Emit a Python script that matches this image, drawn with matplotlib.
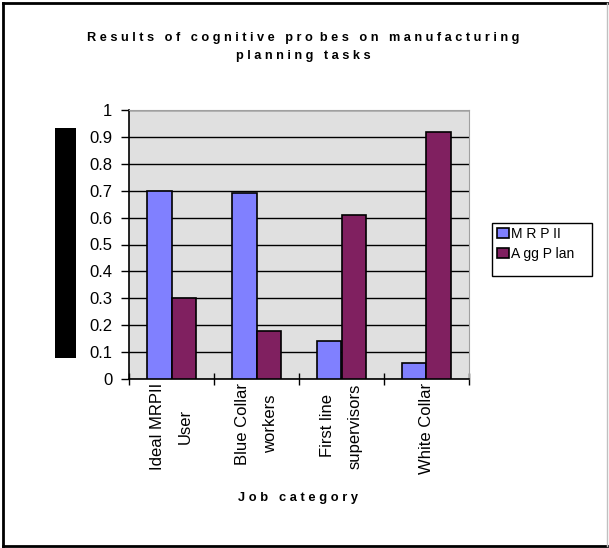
import numpy as np
import matplotlib
matplotlib.use("Agg")
import matplotlib.pyplot as plt
from matplotlib.patches import Rectangle, Patch
from matplotlib.lines import Line2D

plt.rcParams['font.family'] = ['Liberation Sans', 'DejaVu Sans']

categories = ['Ideal MRPII\nUser', 'Blue Collar\nworkers', 'First line\nsupervisors', 'White Collar']
mrp_ii = [0.70, 0.69, 0.14, 0.06]
agg_plan = [0.30, 0.18, 0.61, 0.92]
series_names = ['M R P II', 'A gg P lan']
y_ticks = [0, 0.1, 0.2, 0.3, 0.4, 0.5, 0.6, 0.7, 0.8, 0.9, 1]
y_tick_labels = ['0', '0.1', '0.2', '0.3', '0.4', '0.5', '0.6', '0.7', '0.8', '0.9', '1']

blue = '#8080ff'
plum = '#802060'

fig = plt.figure(figsize=(6.09, 5.48), dpi=100)
ax = fig.add_axes([129/609, 1 - 379/548, 340/609, 269/548])
ax.set_facecolor('#e0e0e0')

x = np.arange(len(categories))
w = 0.29
ax.bar(x - w/2, mrp_ii, w, color=blue, edgecolor='black', linewidth=1.2, zorder=3)
ax.bar(x + w/2, agg_plan, w, color=plum, edgecolor='black', linewidth=1.2, zorder=3)

ax.set_xlim(-0.5, len(categories) - 0.5)
ax.set_ylim(0, 1)
ax.set_yticks(y_ticks)
ax.set_yticklabels(y_tick_labels, fontsize=12)
ax.yaxis.grid(True, color='black', linewidth=1)
ax.set_axisbelow(True)

# category boundaries carry the ticks, names sit between them
ax.set_xticks(np.arange(len(categories) + 1) - 0.5)
ax.set_xticklabels([])
ax.tick_params(axis='x', which='major', direction='inout', length=8, width=1)
ax.tick_params(axis='y', direction='out', length=6, width=1, pad=6)
ax.set_xticks(x, minor=True)
ax.set_xticklabels(categories, minor=True, rotation=90, fontsize=12,
                   va='top', ha='center', linespacing=2.05)
ax.tick_params(axis='x', which='minor', length=0, pad=3)

for s in ['top', 'right']:
    ax.spines[s].set_color('#a0a0a0')
for s in ['left', 'bottom']:
    ax.spines[s].set_color('black')
    ax.spines[s].set_linewidth(1.2)

fig.text(303/609, 1 - 47/548,
         'R e s u l t s   o f   c o g n i t i v e   p r o  b e s   o n   m a n u f a c t u r i n g\n'
         'p l a n n i n g   t a s k s',
         ha='center', va='center', fontsize=9.2, fontweight='bold', linespacing=1.6)
fig.text(298/609, 1 - 498/548, 'J o b   c a t e g o r y',
         ha='center', va='center', fontsize=9.3, fontweight='bold')

# black block where the y title was
fig.patches.append(Rectangle((55/609, 1 - 358/548), 21/609, 230/548,
                             transform=fig.transFigure, facecolor='black',
                             edgecolor='none'))

# legend frame drawn separately, it is wider than its text
fig.patches.append(Rectangle((492/609, 1 - 276/548), 100/609, 53/548,
                             transform=fig.transFigure, facecolor='white',
                             edgecolor='black', linewidth=1, zorder=2))
handles = [Patch(facecolor=blue, edgecolor='black', linewidth=1.2),
           Patch(facecolor=plum, edgecolor='black', linewidth=1.2)]
leg = fig.legend(handles, series_names, loc='upper left',
                 bbox_to_anchor=(494/609, 1 - 224/548), fontsize=10, frameon=False,
                 handlelength=0.9, handleheight=0.7, handletextpad=0.15,
                 borderpad=0.2, labelspacing=0.45, borderaxespad=0)
leg.set_zorder(3)

# outer frame
fig.add_artist(Line2D([3/609, 3/609], [1 - 3/548, 1 - 546/548], color='black', lw=2, transform=fig.transFigure))
fig.add_artist(Line2D([3/609, 607/609], [1 - 3/548, 1 - 3/548], color='black', lw=2, transform=fig.transFigure))
fig.add_artist(Line2D([3/609, 607/609], [1 - 546/548, 1 - 546/548], color='black', lw=2, transform=fig.transFigure))
fig.add_artist(Line2D([607/609, 607/609], [1 - 3/548, 1 - 546/548], color='#c0c0c0', lw=1, transform=fig.transFigure))

fig.savefig('out.png', dpi=100)
